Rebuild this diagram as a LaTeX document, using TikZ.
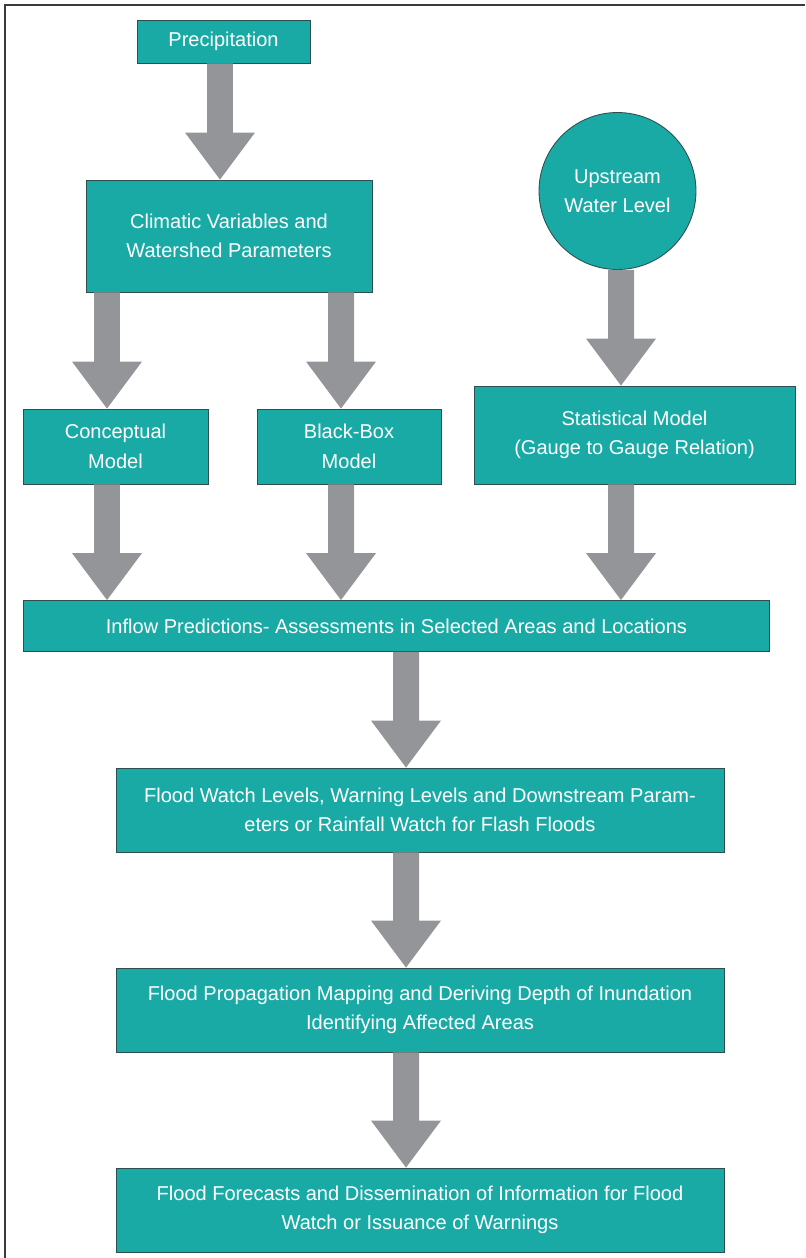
\documentclass[tikz,border=0pt]{standalone}
\usepackage{fontspec}
\setmainfont{Liberation Sans}
\usepackage{xcolor}
\usepackage{tikz}
\usetikzlibrary{calc}

\definecolor{boxteal}{HTML}{1AAAA6}
\definecolor{boxedge}{HTML}{2E4F50}
\definecolor{arrowgray}{HTML}{939598}
\definecolor{framegray}{HTML}{3A3A3A}

% fat grey arrow from #1 straight down to #2
\newcommand{\flowarrow}[2]{%
  \fill[arrowgray] let \p1=(#1), \p2=(#2) in
    (\x1-0.26cm,\y1) -- (\x1+0.26cm,\y1) -- (\x1+0.26cm,\y2+0.94cm) -- (\x1+0.7cm,\y2+0.94cm)
    -- (\x1,\y2) -- (\x1-0.7cm,\y2+0.94cm) -- (\x1-0.26cm,\y2+0.94cm) -- cycle;}

\begin{document}
\begin{tikzpicture}[x=0.02cm,y=-0.02cm,
  box/.style={draw=boxedge,line width=0.5pt,fill=boxteal,text=white,align=center,inner sep=0pt,
    font=\fontsize{11.4}{16.8}\selectfont}]
\useasboundingbox (0,0) rectangle (805,1258);
\draw[framegray,line width=0.9pt] (5,1258) -- (5,5) -- (805,5); % outer frame

\node[box,minimum width=3.46cm,minimum height=0.86cm] (prec) at (223.5,41.5) {Precipitation};
\node[box,minimum width=5.72cm,minimum height=2.24cm] (clim) at (229,236) {Climatic Variables and\\Watershed Parameters};
\node[box,circle,minimum size=3.14cm] (up) at (617.5,191) {Upstream\\Water Level};
\node[box,minimum width=3.70cm,minimum height=1.50cm] (conc) at (115.5,446.5) {Conceptual\\Model};
\node[box,minimum width=3.68cm,minimum height=1.50cm] (bbox) at (349,446.5) {Black-Box\\Model};
\node[box,minimum width=6.42cm,minimum height=1.96cm] (stat) at (634.5,435) {Statistical Model\\(Gauge to Gauge Relation)};
\node[box,minimum width=14.94cm,minimum height=1.02cm] (inflow) at (396.5,626) {Inflow Predictions- Assessments in Selected Areas and Locations};
\node[box,minimum width=12.16cm,minimum height=1.68cm] (watch) at (420,810) {Flood Watch Levels, Warning Levels and Downstream Param-\\eters or Rainfall Watch for Flash Floods};
\node[box,minimum width=12.16cm,minimum height=1.68cm] (prop) at (420,1010) {Flood Propagation Mapping and Deriving Depth of Inundation\\Identifying Affected Areas};
\node[box,minimum width=12.16cm,minimum height=1.68cm] (fcst) at (420,1210) {Flood Forecasts and Dissemination of Information for Flood\\Watch or Issuance of Warnings};

% arrow columns
\coordinate (xp) at (220,0);
\coordinate (xl) at (107,0);
\coordinate (xm) at (341,0);
\coordinate (xr) at (621,0);
\coordinate (xc) at (406,0);

\flowarrow{prec.south -| xp}{clim.north -| xp}
\flowarrow{clim.south -| xl}{conc.north -| xl}
\flowarrow{clim.south -| xm}{bbox.north -| xm}
\flowarrow{up.south -| xr}{stat.north -| xr}
\flowarrow{conc.south -| xl}{inflow.north -| xl}
\flowarrow{bbox.south -| xm}{inflow.north -| xm}
\flowarrow{stat.south -| xr}{inflow.north -| xr}
\flowarrow{inflow.south -| xc}{watch.north -| xc}
\flowarrow{watch.south -| xc}{prop.north -| xc}
\flowarrow{prop.south -| xc}{fcst.north -| xc}
\end{tikzpicture}
\end{document}
